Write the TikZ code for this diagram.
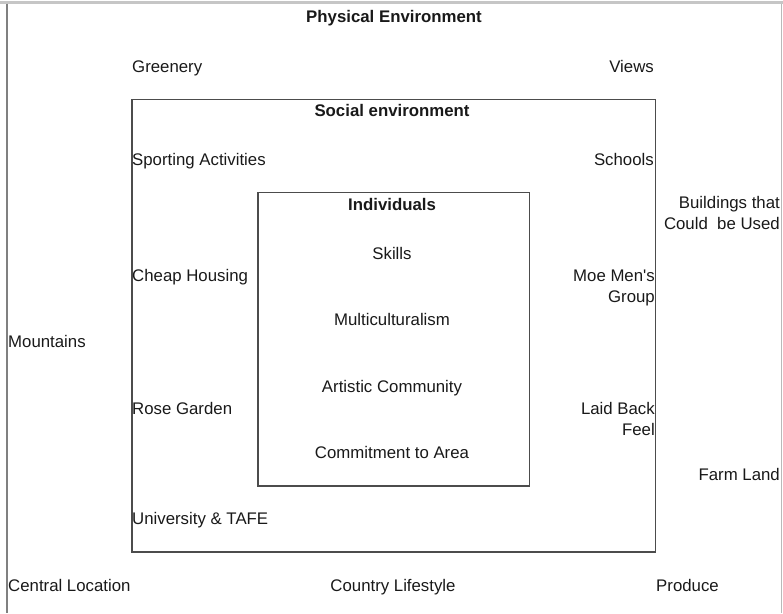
\documentclass[tikz,border=0pt]{standalone}
\usepackage{fontspec}
\setmainfont{Liberation Sans}
\begin{document}
\begin{tikzpicture}[x=1pt,y=-1pt,
 lbl/.style={inner sep=0pt,text=black!90,font=\fontsize{16.8}{20.5}\selectfont},
 ttl/.style={lbl,font=\fontsize{16.8}{20.5}\selectfont\bfseries},
 box/.style={draw=black!70,line width=1.3pt}]
 \useasboundingbox (0,0) rectangle (783,613);
 \draw[gray!45,line width=3pt](0,2)--(783,2);
 \draw[gray,line width=1.5pt](7,3.5)--(7,613);
 \draw[gray!55,line width=1pt](781,3.5)--(781,613);
 \draw[box](132,99.5) rectangle (655.5,552);
 \draw[box](258,192.5) rectangle (529.5,486);
 \node[ttl,anchor=base] (phys) at (394,22) {Physical Environment};
 \node[lbl,anchor=base west] (green) at (132,72) {Greenery};
 \node[lbl,anchor=base east] (views) at (654,72) {Views};
 \node[ttl,anchor=base] (soc) at (392,116) {Social environment};
 \node[lbl,anchor=base west] (sport) at (132,165) {Sporting Activities};
 \node[lbl,anchor=base east] (school) at (654,165) {Schools};
 \node[lbl,anchor=base east,align=right] (build) at (780,229) {Buildings that\\Could\ \ be Used};
 \node[ttl,anchor=base] (indiv) at (392,210) {Individuals};
 \node[lbl,anchor=base] (skill) at (392,259) {Skills};
 \node[lbl,anchor=base west] (house) at (132,281) {Cheap Housing};
 \node[lbl,anchor=base east,align=right] (moe) at (655,302) {Moe Men\textquotesingle s\\Group};
 \node[lbl,anchor=base] (multi) at (392,325) {Multiculturalism};
 \node[lbl,anchor=base west] (mount) at (8,347) {Mountains};
 \node[lbl,anchor=base] (art) at (392,392) {Artistic Community};
 \node[lbl,anchor=base west] (rose) at (132,414) {Rose Garden};
 \node[lbl,anchor=base east,align=right] (laid) at (655,435) {Laid Back\\Feel};
 \node[lbl,anchor=base] (commit) at (392,458) {Commitment to Area};
 \node[lbl,anchor=base east] (farm) at (780,480) {Farm Land};
 \node[lbl,anchor=base west] (uni) at (132,524) {University \& TAFE};
 \node[lbl,anchor=base west] (central) at (8,591) {Central Location};
 \node[lbl,anchor=base] (country) at (393,591) {Country Lifestyle};
 \node[lbl,anchor=base west] (produce) at (656,591) {Produce};
\end{tikzpicture}
\end{document}
